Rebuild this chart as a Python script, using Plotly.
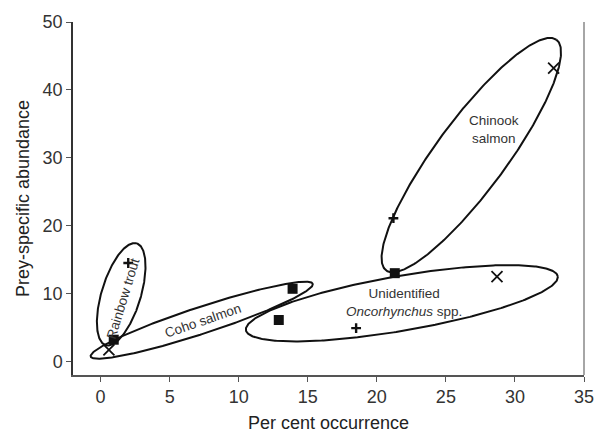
import numpy as np
import plotly.graph_objects as go

# ---- data ----
x_cross = [0.6, 28.7, 32.8]          # "x" markers
y_cross = [1.7, 12.5, 43.2]
x_square = [0.95, 13.9, 12.9, 21.3]  # filled squares
y_square = [3.2, 10.7, 6.1, 13.0]
x_plus = [2.0, 18.5, 21.2]           # "+" markers
y_plus = [14.5, 4.9, 21.1]

groups = ["Rainbow trout", "Coho salmon", "Unidentified<br><i>Oncorhynchus</i> spp.", "Chinook<br>salmon"]
ell_cx = [1.49, 7.32, 21.81, 26.84]
ell_cy = [9.89, 6.07, 8.57, 30.39]
ell_tipx = [2.61, 15.36, 33.1, 33.0]
ell_tipy = [17.39, 11.43, 12.54, 47.39]
ell_ratio = [0.365, 0.115, 0.175, 0.245]

label_x = [1.66, 7.44, 22.0, 28.45]
label_y = [9.2, 6.1, 8.66, 34.1]
label_angle = [-73, -19, 0, 0]

x_range = [-2, 35]
y_range = [-2, 50]
x_ticks = [0, 5, 10, 15, 20, 25, 30, 35]
y_ticks = [0, 10, 20, 30, 40, 50]

# ---- layout geometry ----
W, H = 606, 444
ML, MR, MT, MB = 73, 13, 12, 69
plot_w = W - ML - MR
plot_h = H - MT - MB
sx = plot_w / (x_range[1] - x_range[0])
sy = plot_h / (y_range[1] - y_range[0])

fig = go.Figure()

t = np.linspace(0, 2 * np.pi, 400)
for cx, cy, tx, ty, r in zip(ell_cx, ell_cy, ell_tipx, ell_tipy, ell_ratio):
    ux, uy = (tx - cx) * sx, (ty - cy) * sy
    vx, vy = -uy * r, ux * r
    px = ux * np.cos(t) + vx * np.sin(t)
    py = uy * np.cos(t) + vy * np.sin(t)
    fig.add_trace(go.Scatter(x=cx + px / sx, y=cy + py / sy, mode="lines",
                             line=dict(color="#111111", width=2),
                             hoverinfo="skip", showlegend=False))

fig.add_trace(go.Scatter(x=x_square, y=y_square, mode="markers",
                         marker=dict(symbol="square", size=10, color="#111111"),
                         showlegend=False))
fig.add_trace(go.Scatter(x=x_cross, y=y_cross, mode="markers",
                         marker=dict(symbol="x-thin", size=11, color="#111111",
                                     line=dict(width=1.8, color="#111111")),
                         showlegend=False))
fig.add_trace(go.Scatter(x=x_plus, y=y_plus, mode="markers",
                         marker=dict(symbol="cross-thin", size=7, color="#111111",
                                     line=dict(width=2.4, color="#111111")),
                         showlegend=False))

for g, lx, ly, ang in zip(groups, label_x, label_y, label_angle):
    fig.add_annotation(x=lx, y=ly, text=g, showarrow=False, textangle=ang,
                       font=dict(family="Liberation Sans, Arial", size=13.5, color="#333333"))

fig.add_shape(type="line", xref="paper", yref="paper", x0=1, x1=1, y0=0, y1=1,
              line=dict(color="#888888", width=1.5))

axis_font = dict(family="Liberation Sans, Arial", size=18, color="#333333")
title_font = dict(family="Liberation Sans, Arial", size=18, color="#222222")
fig.update_layout(
    width=W, height=H,
    margin=dict(l=ML, r=MR, t=MT, b=MB),
    paper_bgcolor="white", plot_bgcolor="white",
    xaxis=dict(range=x_range, tickvals=x_ticks, ticks="outside", ticklen=5,
               tickcolor="#555555", showline=True, linecolor="#555555", linewidth=1.5,
               showgrid=False, zeroline=False, tickfont=axis_font,
               title=dict(text="Per cent occurrence", standoff=10, font=title_font)),
    yaxis=dict(range=y_range, tickvals=y_ticks, ticks="outside", ticklen=5,
               tickcolor="#555555", showline=True, linecolor="#333333", linewidth=1.5,
               showgrid=False, zeroline=False, tickfont=axis_font,
               title=dict(text="Prey-specific abundance", standoff=8, font=title_font)),
)

fig.write_html("out.html", config={"displayModeBar": False},
               post_script="document.body.style.margin='0';document.body.style.overflow='hidden';")
